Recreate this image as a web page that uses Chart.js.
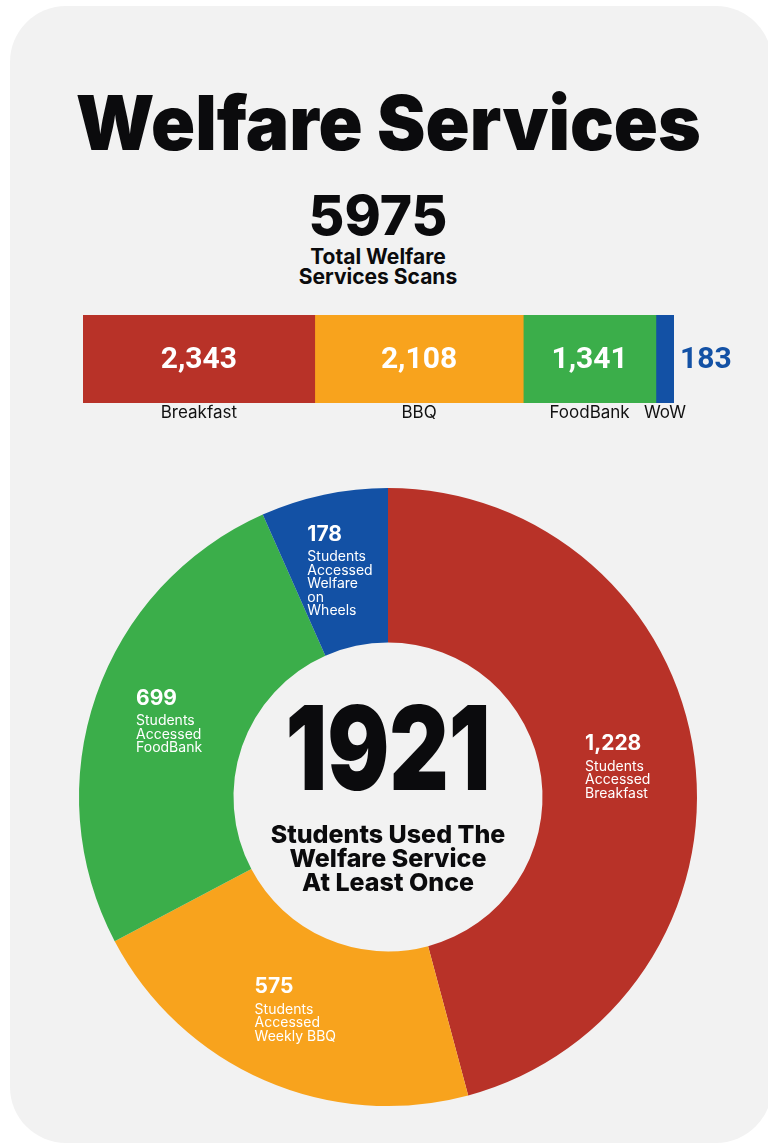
<!DOCTYPE html>
<html>
<head>
<meta charset="utf-8">
<script src="https://cdn.jsdelivr.net/npm/chart.js@4.4.0/dist/chart.umd.min.js"></script>
<style>
  body { margin: 0; background: #fff; width: 768px; height: 1146px; overflow: hidden; font-family: Inter, "Open Sans", sans-serif; color: #0b0b0d; }
  .card { position: absolute; left: 10px; top: 6px; width: 762px; height: 1137px; border-radius: 56px; background: #f2f2f2; }
  .line { position: absolute; left: 0; width: 776px; text-align: center; white-space: nowrap; }
  .line span { display: inline-block; transform-origin: center; }
  #title { top: 84px; font-weight: 900; font-size: 76px; line-height: 1; }
  #total { top: 188px; width: 756px; font-weight: 800; font-size: 55px; line-height: 1; }
  #totalSub { top: 247px; width: 756px; font-weight: 700; font-size: 21px; line-height: 20px; }
  #barWrap { position: absolute; left: 0; top: 300px; width: 768px; height: 135px; }
  #donutWrap { position: absolute; left: 0; top: 467px; width: 776px; height: 660px; }
</style>
</head>
<body>
<div class="card"></div>
<div class="line" id="title"><span>Welfare Services</span></div>
<div class="line" id="total"><span id="totalNum"></span></div>
<div class="line" id="totalSub"><span>Total Welfare<br>Services Scans</span></div>
<div id="barWrap"><canvas id="scanBar"></canvas></div>
<div id="donutWrap"><canvas id="studentDonut"></canvas></div>
<script>
// scans per service (stacked bar)
const barCategories = ['Breakfast', 'BBQ', 'FoodBank', 'WoW'];
const barScans = [2343, 2108, 1341, 183];
const totalScans = 5975;

// unique students per service (doughnut)
const donutValues = [1228, 575, 699, 178];
const donutCaptions = [
  ['Students', 'Accessed', 'Breakfast'],
  ['Students', 'Accessed', 'Weekly BBQ'],
  ['Students', 'Accessed', 'FoodBank'],
  ['Students', 'Accessed', 'Welfare', 'on', 'Wheels']
];
const uniqueStudents = 1921;
const centerLines = ['Students Used The', 'Welfare Service', 'At Least Once'];

const barColors = ['#b83228', '#f8a31d', '#3bae4a', '#1351a5'];
const donutColors = ['#b83228', '#f8a31d', '#3bae4a', '#1351a5'];

document.getElementById('totalNum').textContent = totalScans;

// squeeze the title to the width it has in the poster
const titleSpan = document.querySelector('#title span');
const tw = titleSpan.getBoundingClientRect().width;
titleSpan.style.transform = 'scaleX(' + (625 / tw) + ')';

Chart.defaults.animation = false;

const barLabels = {
  id: 'barLabels',
  afterDatasetsDraw(chart) {
    const ctx = chart.ctx;
    const area = chart.chartArea;
    ctx.save();
    chart.data.datasets.forEach((ds, i) => {
      const bar = chart.getDatasetMeta(i).data[0];
      const left = Math.min(bar.x, bar.base);
      const right = Math.max(bar.x, bar.base);
      const mid = (left + right) / 2;
      const txt = ds.data[0].toLocaleString('en-US');
      ctx.font = '700 30px Roboto, sans-serif';
      ctx.textBaseline = 'middle';
      const w = ctx.measureText(txt).width;
      if (w + 10 <= right - left) {
        ctx.fillStyle = '#fff';
        ctx.textAlign = 'center';
        ctx.fillText(txt, mid, bar.y + 1);
      } else {
        // segment too narrow for its number, put it just past the bar
        ctx.fillStyle = ds.backgroundColor;
        ctx.textAlign = 'left';
        ctx.fillText(txt, right + 6, bar.y + 1);
      }
      ctx.font = '400 17px Inter, sans-serif';
      ctx.fillStyle = '#111';
      ctx.textAlign = 'center';
      ctx.fillText(ds.label, mid, area.bottom + 10);
    });
    ctx.restore();
  }
};

new Chart(document.getElementById('scanBar'), {
  type: 'bar',
  data: {
    labels: ['Scans'],
    datasets: barCategories.map((c, i) => ({
      label: c,
      data: [barScans[i]],
      backgroundColor: barColors[i],
      borderWidth: 0,
      barPercentage: 1,
      categoryPercentage: 1
    }))
  },
  options: {
    indexAxis: 'y',
    responsive: true,
    maintainAspectRatio: false,
    layout: { padding: { left: 83, right: 94, top: 15, bottom: 32 } },
    plugins: { legend: { display: false }, tooltip: { enabled: false } },
    scales: {
      x: { stacked: true, min: 0, max: totalScans, display: false },
      y: { stacked: true, display: false }
    }
  },
  plugins: [barLabels]
});

const donutText = {
  id: 'donutText',
  afterDatasetsDraw(chart) {
    const ctx = chart.ctx;
    const arcs = chart.getDatasetMeta(0).data;
    ctx.save();
    ctx.fillStyle = '#fff';
    ctx.textAlign = 'left';
    ctx.textBaseline = 'alphabetic';
    arcs.forEach((arc, i) => {
      const p = arc.tooltipPosition();
      const num = donutValues[i].toLocaleString('en-US');
      const lines = donutCaptions[i];
      ctx.font = '700 21px Inter, sans-serif';
      let w = ctx.measureText(num).width;
      ctx.font = '400 14px Inter, sans-serif';
      lines.forEach(l => { w = Math.max(w, ctx.measureText(l).width); });
      const h = 22 + lines.length * 13.5;
      const x0 = p.x - w / 2;
      let y = p.y - h / 2 + 15;
      ctx.font = '700 21px Inter, sans-serif';
      ctx.fillText(num, x0, y);
      y += 7;
      ctx.font = '400 14px Inter, sans-serif';
      lines.forEach(l => { y += 13.5; ctx.fillText(l, x0, y); });
    });

    const cx = arcs[0].x;
    const cy = arcs[0].y;
    ctx.fillStyle = '#0b0b0d';
    ctx.textAlign = 'center';
    ctx.font = '900 117px Inter, sans-serif';
    const big = String(uniqueStudents);
    const bw = ctx.measureText(big).width;
    ctx.save();
    ctx.translate(cx, cy - 7);
    ctx.scale(205 / bw, 1);
    ctx.fillText(big, 0, 0);
    ctx.restore();
    ctx.font = '800 25px Inter, sans-serif';
    centerLines.forEach((l, k) => ctx.fillText(l, cx, cy + 46 + k * 24));
    ctx.restore();
  }
};

new Chart(document.getElementById('studentDonut'), {
  type: 'doughnut',
  data: {
    labels: ['Breakfast', 'Weekly BBQ', 'FoodBank', 'Welfare on Wheels'],
    datasets: [{
      data: donutValues,
      backgroundColor: donutColors,
      borderWidth: 0
    }]
  },
  options: {
    responsive: true,
    maintainAspectRatio: false,
    cutout: '50%',
    layout: { padding: 21 },
    plugins: { legend: { display: false }, tooltip: { enabled: false } }
  },
  plugins: [donutText]
});
</script>
</body>
</html>
